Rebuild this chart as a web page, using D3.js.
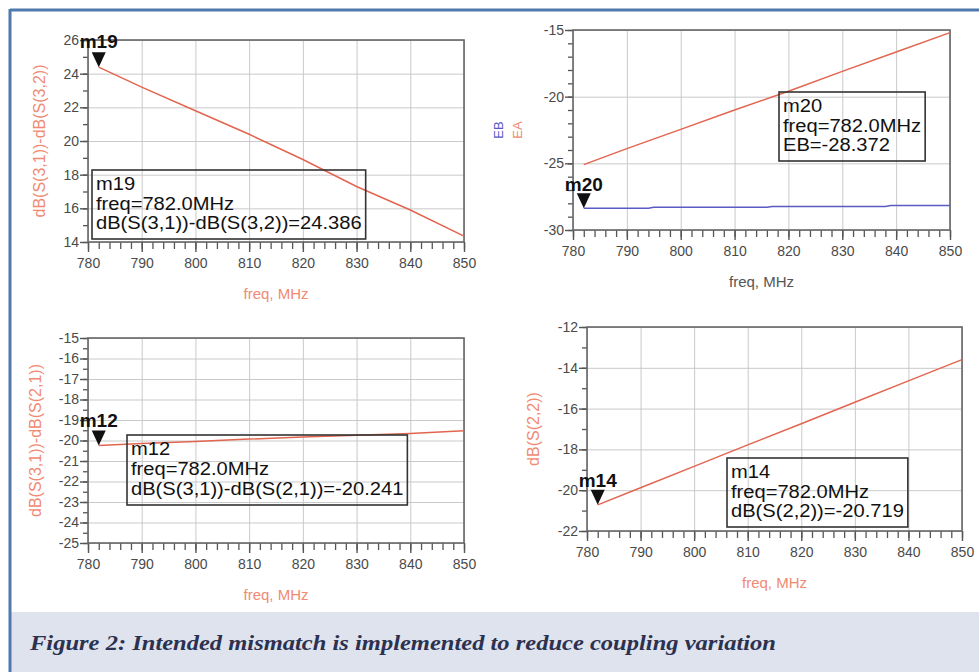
<!DOCTYPE html>
<html>
<head>
<meta charset="utf-8">
<script src="https://cdn.jsdelivr.net/npm/d3@7"></script>
<style>
    html, body { margin: 0; padding: 0; background: #fff; }
    svg { display: block; }
    text { font-family: "Liberation Sans", Arial, sans-serif; }
</style>
</head>
<body>
<svg id="chart" width="979" height="672"></svg>
<script>
// Frequency sweep used by the S-parameter traces (MHz)
const freqMHz = [782, 790, 800, 810, 820, 830, 840, 850];

// Top left: dB(S(3,1)) - dB(S(3,2))
const s31MinusS32 = [24.386, 23.2, 21.8, 20.4, 18.9, 17.3, 15.9, 14.35];

// Top right: EA (red) and EB (blue, small steps)
const eaValues = [-25.1, -23.9, -22.45, -21.0, -19.6, -18.1, -16.65, -15.2];
const ebFreqMHz = [782, 794, 795, 816, 817, 838, 839, 850];
const ebValues = [-28.372, -28.37, -28.30, -28.30, -28.23, -28.23, -28.16, -28.16];

// Bottom left: dB(S(3,1)) - dB(S(2,1))
const s31MinusS21 = [-20.241, -20.15, -20.05, -19.93, -19.83, -19.74, -19.66, -19.53];

// Bottom right: dB(S(2,2))
const s22Values = [-20.719, -19.88, -18.83, -17.78, -16.74, -15.69, -14.64, -13.6];

// Axis ticks
const xTicks = [780, 790, 800, 810, 820, 830, 840, 850];
const xMinorTicks = d3.range(780, 851, 2);
const yTicksTL = [14, 16, 18, 20, 22, 24, 26];
const yTicksTR = [-30, -25, -20, -15];
const yTicksBL = [-25, -24, -23, -22, -21, -20, -19, -18, -17, -16, -15];
const yTicksBR = [-22, -20, -18, -16, -14, -12];

const RED = "#e2654f";
const RED_LABEL = "#f08a72";
const BLUE = "#5a5ac4";

const svg = d3.select("#chart");

// Page frame and caption band
svg.append("rect")
    .attr("x", 11).attr("y", 612)
    .attr("width", 968).attr("height", 60)
    .attr("fill", "#dee3ee");
svg.append("line")
    .attr("x1", 10).attr("x2", 979).attr("y1", 10).attr("y2", 10)
    .attr("stroke", "#4f78ad").attr("stroke-width", 3);
svg.append("line")
    .attr("x1", 10).attr("x2", 10).attr("y1", 9).attr("y2", 672)
    .attr("stroke", "#4f78ad").attr("stroke-width", 3);
svg.append("text")
    .attr("x", 30).attr("y", 650)
    .attr("textLength", 746).attr("lengthAdjust", "spacingAndGlyphs")
    .style("font-family", "'Liberation Serif', 'DejaVu Serif', serif")
    .style("font-style", "italic").style("font-weight", "bold")
    .style("font-size", "21px").attr("fill", "#2c3150")
    .text("Figure 2: Intended mismatch is implemented to reduce coupling variation");

const panels = [
    {
        left: 88, top: 40, width: 376, height: 202,
        yDomain: [14, 26], yTicks: yTicksTL, yMinor: d3.range(14, 26.1, 1),
        series: [{ freq: freqMHz, values: s31MinusS32, color: RED }],
        yLabels: [{ text: "dB(S(3,1))-dB(S(3,2))", color: RED_LABEL, dx: -49 }],
        xLabelColor: RED_LABEL,
        marker: { name: "m19", series: 0, expr: "dB(S(3,1))-dB(S(3,2))", labelDy: -19,
                  boxX: 92, boxBase: 190, lineGap: 19.5 }
    },
    {
        left: 573, top: 30, width: 377, height: 200,
        yDomain: [-30, -15], yTicks: yTicksTR, yMinor: d3.range(-30, -14.9, 1),
        series: [
            { freq: freqMHz, values: eaValues, color: RED },
            { freq: ebFreqMHz, values: ebValues, color: BLUE }
        ],
        yLabels: [
            { text: "EB", color: BLUE, dx: -75 },
            { text: "EA", color: RED_LABEL, dx: -56 }
        ],
        yLabelSize: 13,
        xLabelColor: "#555",
        marker: { name: "m20", series: 1, expr: "EB", labelDy: -17,
                  boxX: 779, boxBase: 112, lineGap: 19.5 }
    },
    {
        left: 88, top: 338, width: 376, height: 205,
        yDomain: [-25, -15], yTicks: yTicksBL, yMinor: d3.range(-25, -14.9, 0.5),
        series: [{ freq: freqMHz, values: s31MinusS21, color: RED }],
        yLabels: [{ text: "dB(S(3,1))-dB(S(2,1))", color: RED_LABEL, dx: -53 }],
        xLabelColor: RED_LABEL,
        marker: { name: "m12", series: 0, expr: "dB(S(3,1))-dB(S(2,1))", labelDy: -18,
                  boxX: 127, boxBase: 455, lineGap: 20 }
    },
    {
        left: 587, top: 327, width: 375, height: 204,
        yDomain: [-22, -12], yTicks: yTicksBR, yMinor: d3.range(-22, -11.9, 1),
        series: [{ freq: freqMHz, values: s22Values, color: RED }],
        yLabels: [{ text: "dB(S(2,2))", color: RED_LABEL, dx: -54 }],
        xLabelColor: RED_LABEL,
        marker: { name: "m14", series: 0, expr: "dB(S(2,2))", labelDy: -18,
                  boxX: 727, boxBase: 478, lineGap: 19.5 }
    }
];

panels.forEach(drawPanel);

function drawPanel(p) {
    const g = svg.append("g").attr("transform", "translate(" + p.left + "," + p.top + ")");

    const x = d3.scaleLinear().domain([780, 850]).range([0, p.width]);
    const y = d3.scaleLinear().domain(p.yDomain).range([p.height, 0]);

    // Grid
    const gx = g.append("g")
        .attr("transform", "translate(0," + p.height + ")")
        .call(d3.axisTop(x).tickValues(xTicks).tickSize(p.height).tickFormat(""));
    const gy = g.append("g")
        .call(d3.axisRight(y).tickValues(p.yTicks).tickSize(p.width).tickFormat(""));
    [gx, gy].forEach(function (a) {
        a.select(".domain").remove();
        a.selectAll("line").attr("stroke", "#c9c9c9").attr("stroke-width", 1);
    });

    // Minor ticks
    const mx = g.append("g")
        .attr("transform", "translate(0," + p.height + ")")
        .call(d3.axisBottom(x).tickValues(xMinorTicks).tickSize(7).tickFormat(""));
    const my = g.append("g")
        .call(d3.axisLeft(y).tickValues(p.yMinor).tickSize(5).tickFormat(""));
    [mx, my].forEach(function (a) {
        a.select(".domain").remove();
        a.selectAll("line").attr("stroke", "#555").attr("stroke-width", 1.3);
    });

    // Major ticks with labels
    const ax = g.append("g")
        .attr("transform", "translate(0," + p.height + ")")
        .call(d3.axisBottom(x).tickValues(xTicks).tickSize(10).tickPadding(6)
            .tickFormat(function (d) { return String(d); }));
    const ay = g.append("g")
        .call(d3.axisLeft(y).tickValues(p.yTicks).tickSize(8).tickPadding(1)
            .tickFormat(function (d) { return String(d); }));
    [ax, ay].forEach(function (a) {
        a.select(".domain").remove();
        a.selectAll("line").attr("stroke", "#555").attr("stroke-width", 1.4);
        a.selectAll("text")
            .attr("fill", "#4a4a4a")
            .style("font-family", "'Liberation Sans', Arial, sans-serif")
            .style("font-size", "14px");
    });

    // Plot frame
    g.append("rect")
        .attr("width", p.width).attr("height", p.height)
        .attr("fill", "none").attr("stroke", "#666").attr("stroke-width", 1.6);

    // Traces
    const line = d3.line()
        .x(function (d) { return x(d[0]); })
        .y(function (d) { return y(d[1]); });
    p.series.forEach(function (s) {
        g.append("path")
            .datum(d3.zip(s.freq, s.values))
            .attr("d", line)
            .attr("fill", "none")
            .attr("stroke", s.color)
            .attr("stroke-width", 1.5);
    });

    // Axis labels
    g.append("text")
        .attr("x", p.width / 2).attr("y", p.height + 57)
        .attr("text-anchor", "middle")
        .attr("fill", p.xLabelColor)
        .style("font-size", "15px")
        .text("freq, MHz");
    p.yLabels.forEach(function (l) {
        g.append("text")
            .attr("transform", "translate(" + l.dx + "," + (p.height / 2) + ") rotate(-90)")
            .attr("dy", "0.35em")
            .attr("text-anchor", "middle")
            .attr("fill", l.color)
            .style("font-size", (p.yLabelSize || 16) + "px")
            .text(l.text);
    });

    // Marker at the first sweep point
    const m = p.marker;
    const s = p.series[m.series];
    const mf = s.freq[0], mv = s.values[0];
    const mg = g.append("g").attr("transform", "translate(" + x(mf) + "," + y(mv) + ")");
    mg.append("path").attr("d", "M0,0 L-7,-15 L7,-15 Z").attr("fill", "#111");
    mg.append("text")
        .attr("y", m.labelDy)
        .attr("text-anchor", "middle")
        .attr("fill", "#111")
        .style("font-size", "19px")
        .style("font-weight", "bold")
        .text(m.name);

    // Marker readout box (page coordinates); glyphs are a little wide, as in the plot
    const lines = [m.name, "freq=" + mf.toFixed(1) + "MHz", m.expr + "=" + mv.toFixed(3)];
    const box = svg.append("g");
    const txt = box.selectAll("text").data(lines).join("text")
        .attr("x", m.boxX + 4)
        .attr("y", function (d, i) { return m.boxBase + i * m.lineGap; })
        .attr("fill", "#111")
        .style("font-size", "17.5px")
        .text(function (d) { return d; });
    let w = 0;
    txt.each(function () {
        const len = this.getComputedTextLength() * 1.15;
        d3.select(this).attr("textLength", len).attr("lengthAdjust", "spacingAndGlyphs");
        w = Math.max(w, len);
    });
    box.insert("rect", "text")
        .attr("x", m.boxX).attr("y", m.boxBase - 20)
        .attr("width", w + 8).attr("height", 2 * m.lineGap + 30)
        .attr("fill", "none").attr("stroke", "#333").attr("stroke-width", 1.6);
}
</script>
</body>
</html>
